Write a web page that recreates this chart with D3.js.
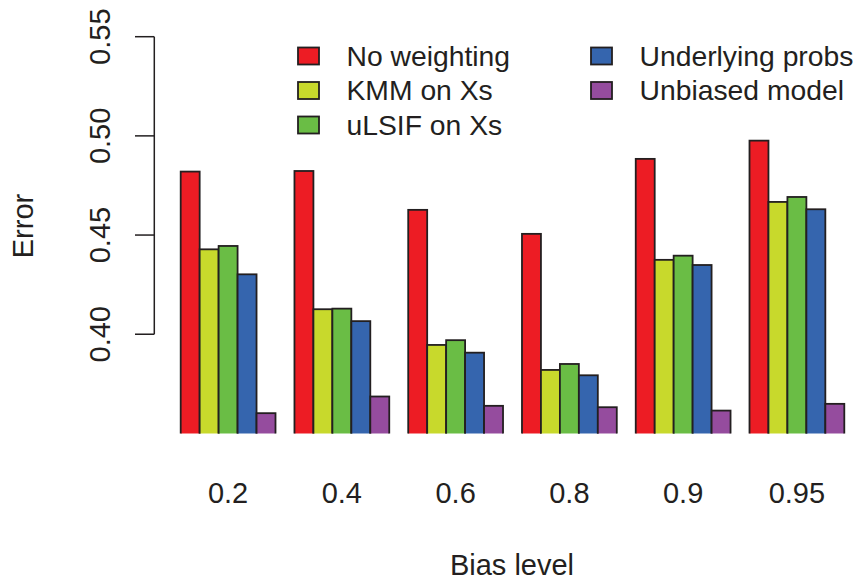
<!DOCTYPE html>
<html>
<head>
<meta charset="utf-8">
<script src="https://cdn.jsdelivr.net/npm/d3@7"></script>
<style>
  body { margin: 0; background: #fff; }
  text { font-family: "Liberation Sans", Arial, sans-serif; fill: #231f20; }
</style>
</head>
<body>
<svg id="chart" width="861" height="582"></svg>
<script>
const biasLevels = ['0.2', '0.4', '0.6', '0.8', '0.9', '0.95'];
const methods = ['No weighting', 'KMM on Xs', 'uLSIF on Xs', 'Underlying probs', 'Unbiased model'];
const colors = ['#ed1c24', '#c8d92c', '#6abd45', '#3565ae', '#954c9e'];

// error per bias level, one array per method
const noWeighting = [0.482, 0.4823, 0.4627, 0.4506, 0.4884, 0.4976];
const kmm = [0.4428, 0.4126, 0.3946, 0.382, 0.4375, 0.4667];
const ulsif = [0.4445, 0.4129, 0.397, 0.385, 0.4396, 0.4692];
const underlying = [0.4302, 0.4066, 0.3907, 0.3793, 0.4349, 0.463];
const unbiased = [0.3602, 0.3686, 0.3639, 0.3632, 0.3615, 0.3649];
const seriesValues = [noWeighting, kmm, ulsif, underlying, unbiased];

const yTicks = [0.40, 0.45, 0.50, 0.55];

const svg = d3.select('#chart');

const x = d3.scaleBand()
  .domain(biasLevels)
  .range([180.7, 844.3])
  .paddingInner(1 / 6)
  .paddingOuter(0);

const xInner = d3.scaleBand()
  .domain(methods)
  .range([0, x.bandwidth()]);

const y = d3.scaleLinear()
  .domain([0.35, 0.55])
  .range([433.4, 36.7]);

svg.append('clipPath')
  .attr('id', 'plotClip')
  .append('rect')
  .attr('x', 0)
  .attr('y', 0)
  .attr('width', 861)
  .attr('height', y(0.35));

const rows = biasLevels.map((b, i) => ({ bias: b, values: methods.map((m, j) => ({ method: m, value: seriesValues[j][i], k: j })) }));

const groups = svg.append('g')
  .attr('clip-path', 'url(#plotClip)')
  .selectAll('g')
  .data(rows)
  .enter()
  .append('g')
  .attr('transform', d => `translate(${x(d.bias)},0)`);

groups.selectAll('rect')
  .data(d => d.values)
  .enter()
  .append('rect')
  .attr('x', d => xInner(d.method))
  .attr('y', d => y(d.value))
  .attr('width', xInner.bandwidth())
  .attr('height', d => y(0.34) - y(d.value))
  .attr('fill', d => colors[d.k])
  .attr('stroke', '#231f20')
  .attr('stroke-width', 1.8);

// x labels
svg.append('g')
  .selectAll('text')
  .data(biasLevels)
  .enter()
  .append('text')
  .attr('x', d => x(d) + x.bandwidth() / 2)
  .attr('y', 503)
  .attr('text-anchor', 'middle')
  .style('font-size', '29px')
  .text(d => d);

// y axis
const yAxis = svg.append('g');
yAxis.append('line')
  .attr('x1', 154.3).attr('x2', 154.3)
  .attr('y1', y(0.40)).attr('y2', y(0.55))
  .attr('stroke', '#231f20').attr('stroke-width', 1.5);
yAxis.selectAll('line.tick')
  .data(yTicks)
  .enter()
  .append('line')
  .attr('class', 'tick')
  .attr('x1', 135).attr('x2', 154.3)
  .attr('y1', d => y(d)).attr('y2', d => y(d))
  .attr('stroke', '#231f20').attr('stroke-width', 1.5);
yAxis.selectAll('text')
  .data(yTicks)
  .enter()
  .append('text')
  .attr('transform', d => `translate(109.5,${y(d)}) rotate(-90)`)
  .attr('text-anchor', 'middle')
  .style('font-size', '29px')
  .text(d3.format('.2f'));

// axis titles
svg.append('text')
  .attr('x', 512)
  .attr('y', 575)
  .attr('text-anchor', 'middle')
  .style('font-size', '29px')
  .text('Bias level');

svg.append('text')
  .attr('transform', 'translate(33,226) rotate(-90)')
  .attr('text-anchor', 'middle')
  .style('font-size', '29px')
  .text('Error');

// legend
const legendPos = [[298, 56], [298, 90.5], [298, 125], [591, 56], [591, 90.5]];
const legend = svg.append('g')
  .selectAll('g')
  .data(methods)
  .enter()
  .append('g')
  .attr('transform', (d, i) => `translate(${legendPos[i][0]},${legendPos[i][1]})`);

legend.append('rect')
  .attr('x', 0)
  .attr('y', -8.5)
  .attr('width', 21)
  .attr('height', 17)
  .attr('fill', (d, i) => colors[i])
  .attr('stroke', '#231f20')
  .attr('stroke-width', 1.8);

legend.append('text')
  .attr('x', 48.5)
  .attr('y', 9.5)
  .style('font-size', '28.3px')
  .text(d => d);
</script>
</body>
</html>
